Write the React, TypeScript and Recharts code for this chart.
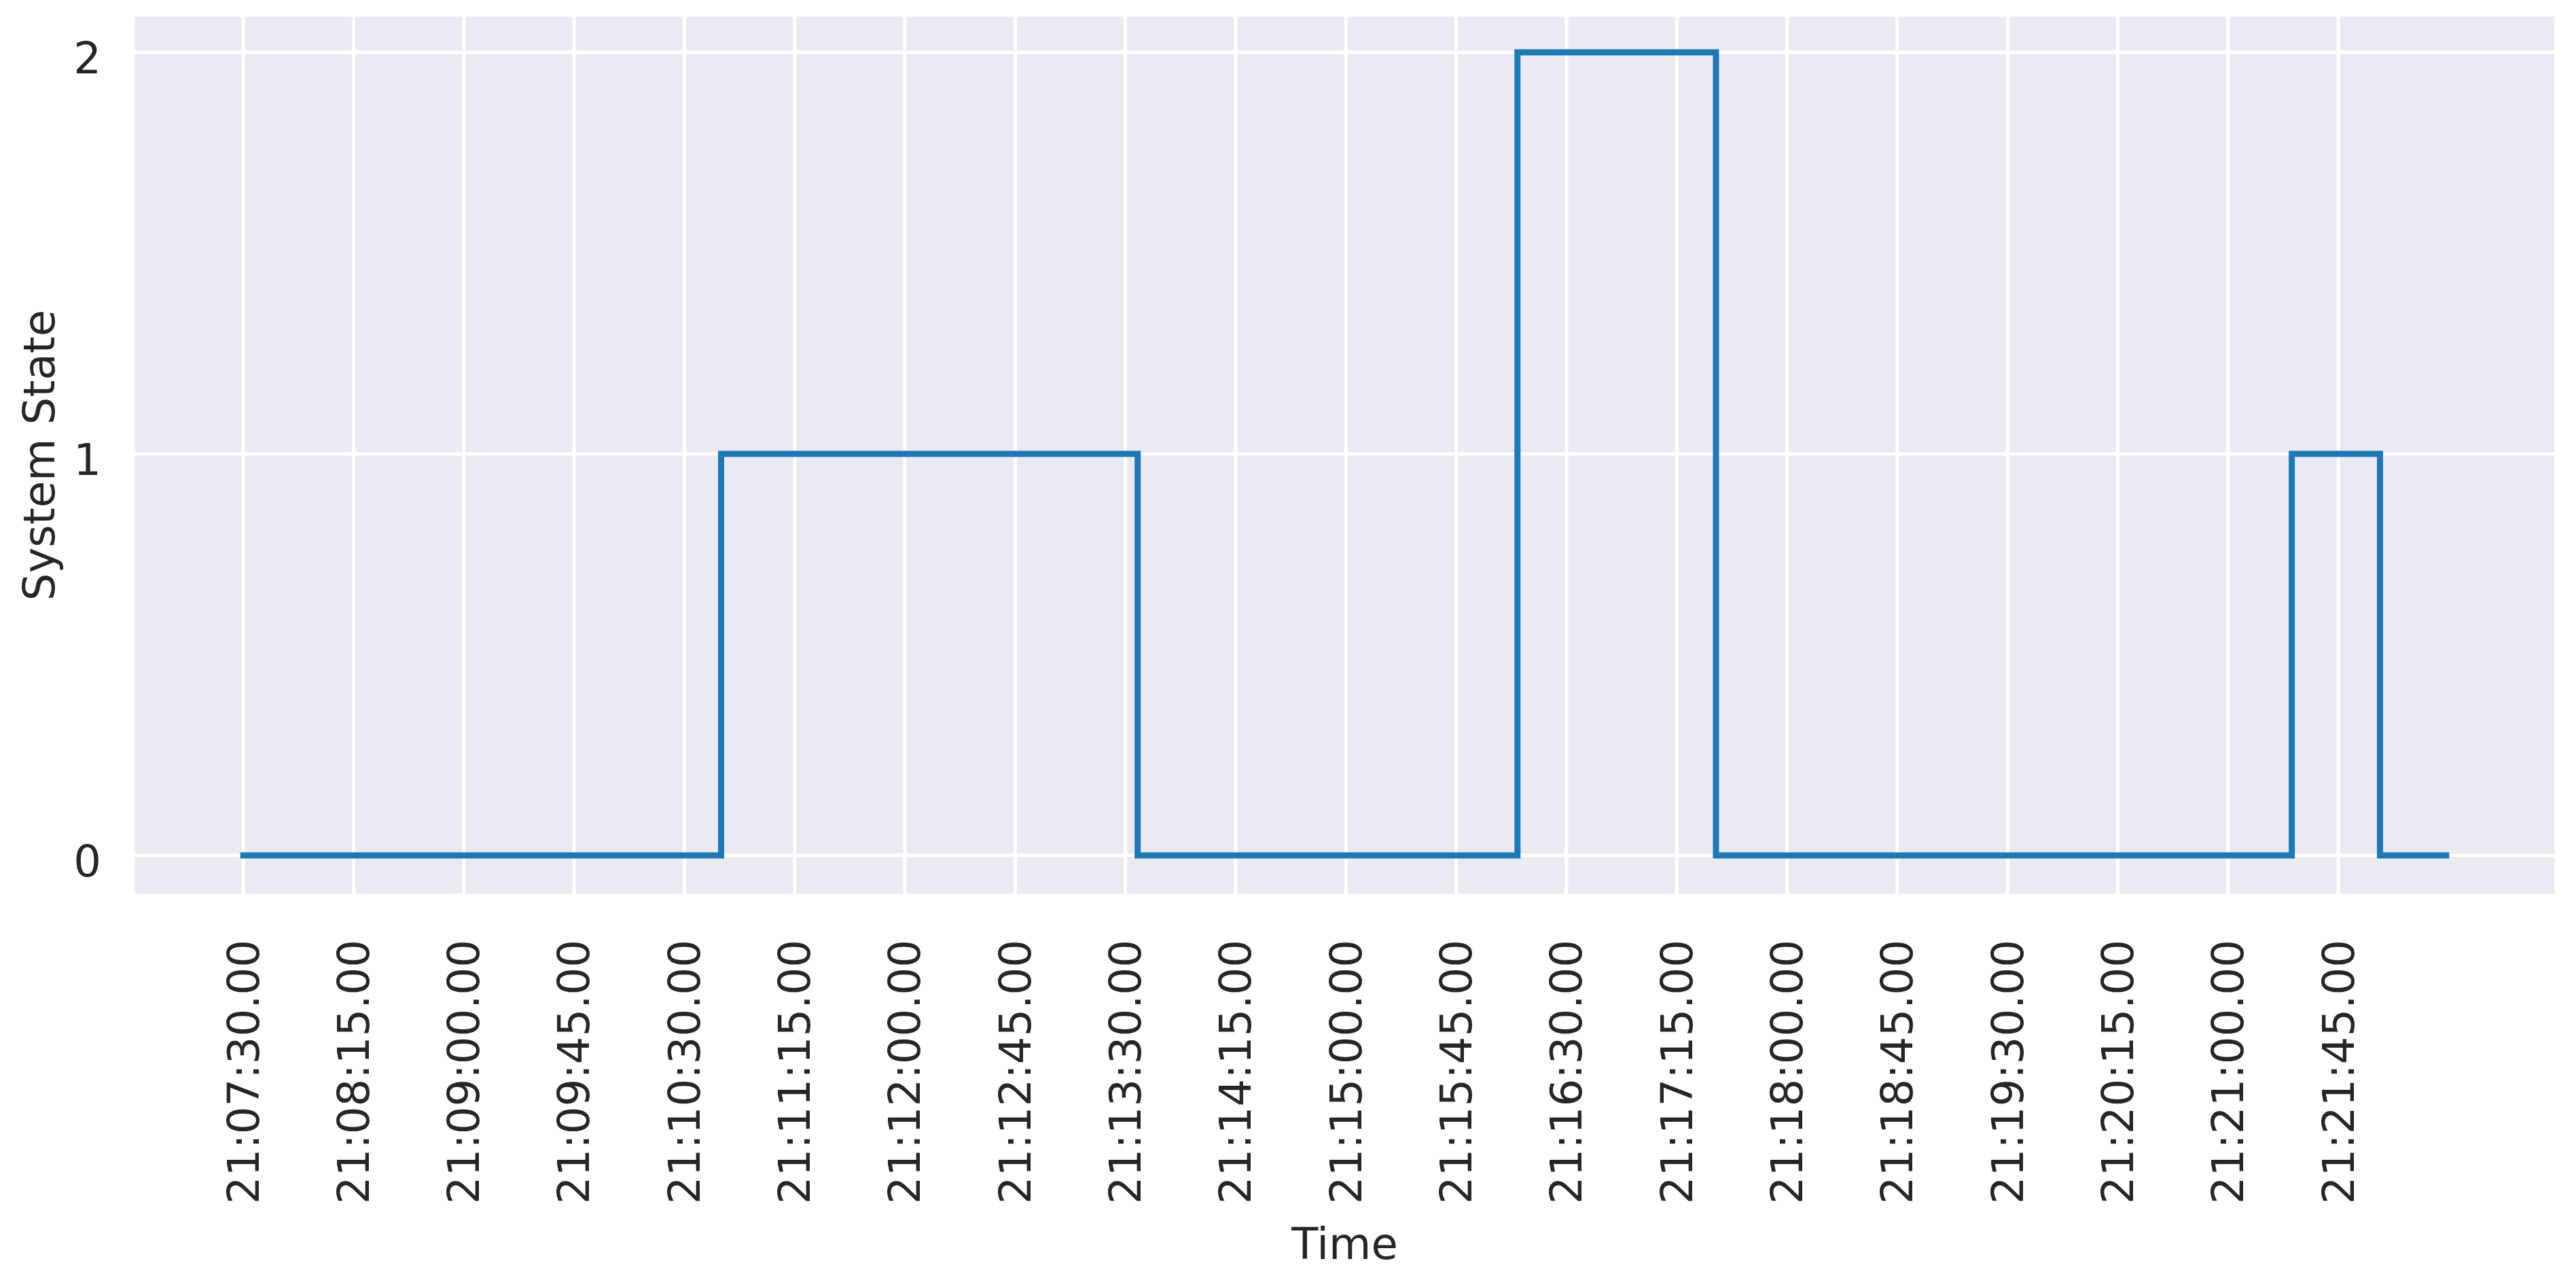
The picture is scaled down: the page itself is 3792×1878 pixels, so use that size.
import { LineChart, Line, XAxis, YAxis, CartesianGrid, Label } from 'recharts';

// state changes (time of change, new state)
const changeTimes = ['21:07:30', '21:10:45', '21:13:35', '21:16:10', '21:17:31', '21:21:26', '21:22:02', '21:22:29'];
const stateValues = [0, 1, 0, 2, 0, 1, 0, 0];

const timeTickLabels = [
  '21:07:30.00', '21:08:15.00', '21:09:00.00', '21:09:45.00', '21:10:30.00',
  '21:11:15.00', '21:12:00.00', '21:12:45.00', '21:13:30.00', '21:14:15.00',
  '21:15:00.00', '21:15:45.00', '21:16:30.00', '21:17:15.00', '21:18:00.00',
  '21:18:45.00', '21:19:30.00', '21:20:15.00', '21:21:00.00', '21:21:45.00',
];
const stateTicks = [0, 1, 2];

const toSeconds = (s: string) => {
  const [h, m, sec] = s.split(':').map(parseFloat);
  return h * 3600 + m * 60 + sec;
};

const data = changeTimes.map((t, i) => ({ time: toSeconds(t), state: stateValues[i] }));
const timeTicks = timeTickLabels.map(toSeconds);
const tickLabelMap = new Map(timeTicks.map((t, i) => [t, timeTickLabels[i]]));

// matplotlib-style 5% padding around the data range
const tMin = data[0].time;
const tMax = data[data.length - 1].time;
const pad = (tMax - tMin) * 0.05;

const FONT = 'DejaVu Sans';
const TEXT = '#262626';

const TimeTick = (props: any) => {
  const { x, y, payload } = props;
  return (
    <text
      x={x}
      y={y}
      transform={`rotate(-90, ${x}, ${y})`}
      textAnchor="end"
      dy="0.35em"
      fill={TEXT}
      fontSize={64}
      fontFamily={FONT}
    >
      {tickLabelMap.get(payload.value)}
    </text>
  );
};

const StateTick = (props: any) => {
  const { x, y, payload } = props;
  return (
    <text x={x} y={y} textAnchor="end" dy="0.48em" fill={TEXT} fontSize={64} fontFamily={FONT}>
      {payload.value}
    </text>
  );
};

const YLabel = (props: any) => {
  const vb = props.viewBox;
  const cx = vb.x + 58;
  const cy = vb.y + vb.height / 2;
  return (
    <text
      x={cx}
      y={cy}
      transform={`rotate(-90, ${cx}, ${cy})`}
      textAnchor="middle"
      dominantBaseline="central"
      fill={TEXT}
      fontSize={64}
      fontFamily={FONT}
    >
      System State
    </text>
  );
};

export default function App() {
  return (
    <div style={{ position: 'absolute', left: 0, top: 0, width: 3792, height: 1878, background: '#fff' }}>
      <LineChart width={3792} height={1878} data={data} margin={{ top: 22, right: 29, bottom: 0, left: 0 }}>
        <CartesianGrid fill="#EAEAF2" stroke="#fff" strokeWidth={5} />
        <XAxis
          dataKey="time"
          type="number"
          domain={[tMin - pad, tMax + pad]}
          ticks={timeTicks}
          interval={0}
          height={560}
          axisLine={false}
          tickLine={false}
          tickSize={0}
          tickMargin={65}
          tick={<TimeTick />}
        >
          <Label
            value="Time"
            position="insideBottom"
            offset={25}
            fill={TEXT}
            fontSize={64}
            fontFamily={FONT}
          />
        </XAxis>
        <YAxis
          type="number"
          domain={[-0.1, 2.093]}
          ticks={stateTicks}
          width={196}
          axisLine={false}
          tickLine={false}
          tickSize={0}
          tickMargin={47}
          tick={<StateTick />}
        >
          <Label content={<YLabel />} />
        </YAxis>
        <Line
          type="stepAfter"
          dataKey="state"
          stroke="#1f77b4"
          strokeWidth={9}
          strokeLinecap="square"
          strokeLinejoin="miter"
          dot={false}
          activeDot={false}
          isAnimationActive={false}
        />
      </LineChart>
    </div>
  );
}
